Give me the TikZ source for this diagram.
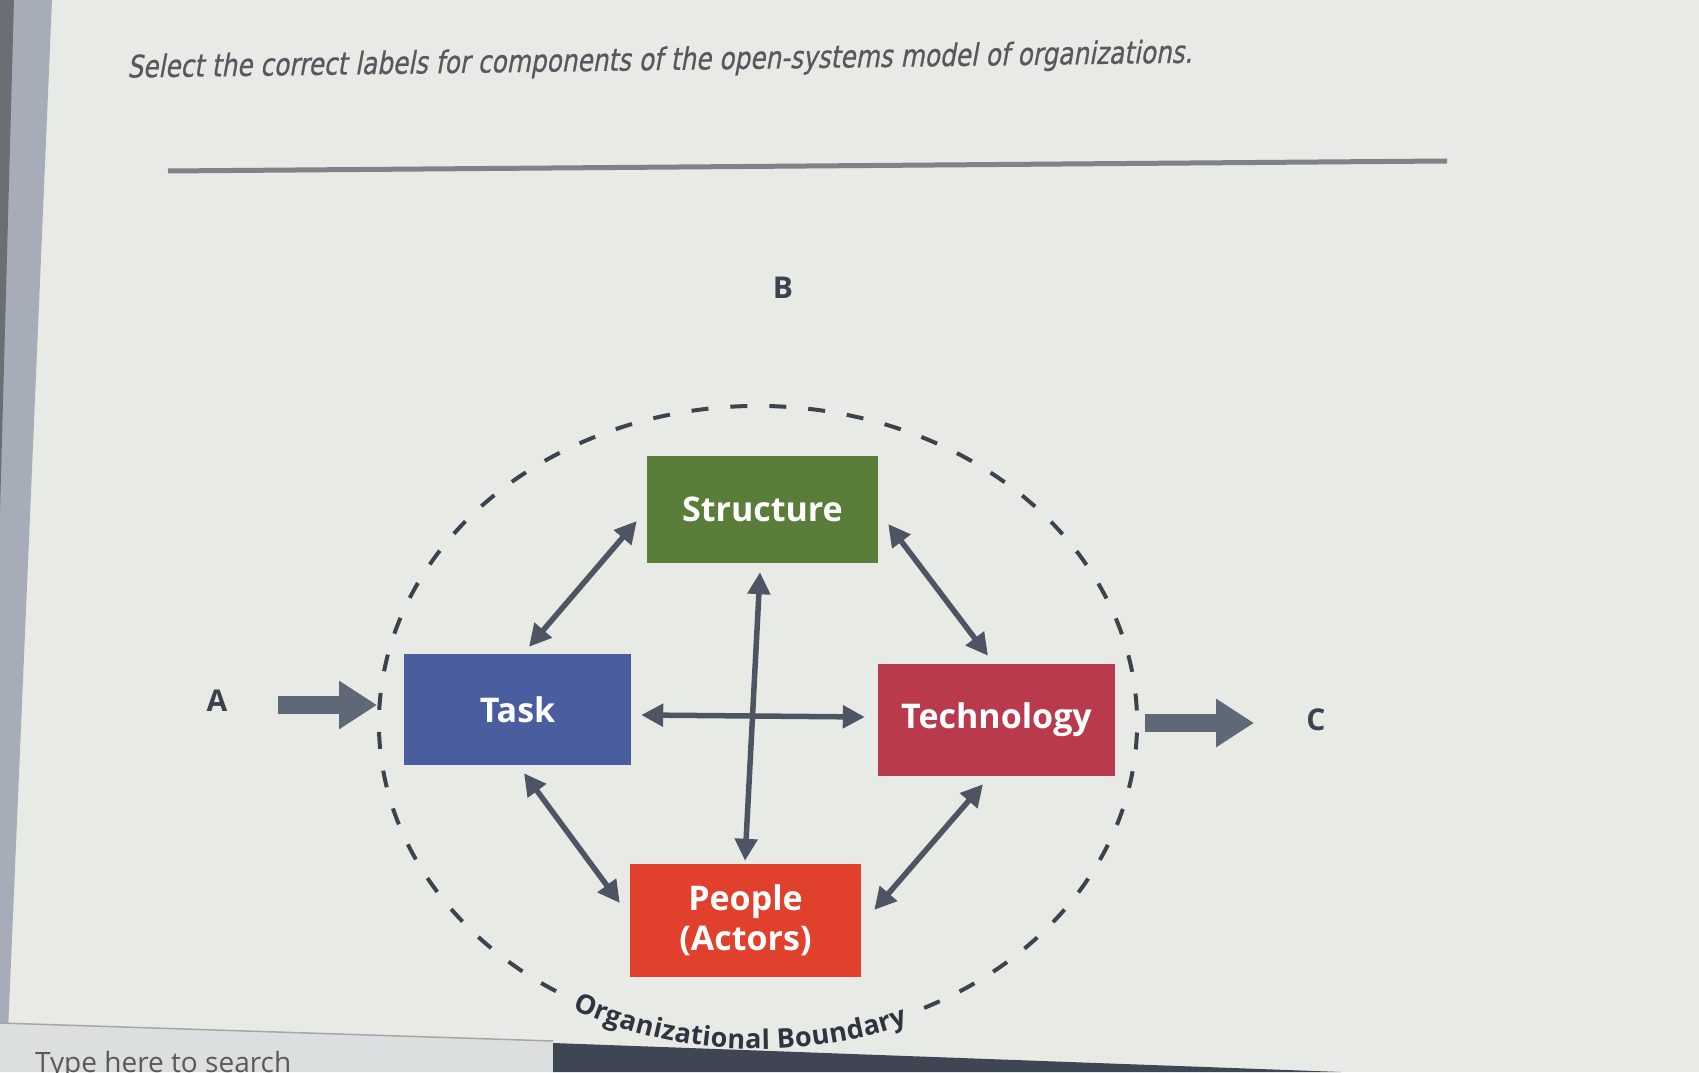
\documentclass[tikz,border=0pt]{standalone}
\usepackage{fontspec}
\setmainfont{Open Sans}
\newfontfamily\titlefont{DejaVu Sans}[FakeStretch=0.80,FakeSlant=0.2,FakeBold=0.6]
\usetikzlibrary{arrows.meta,calc,decorations.text}
\definecolor{bg}{HTML}{E8EAE6}
\definecolor{ink}{HTML}{3C434E}
\definecolor{arr}{HTML}{4D5562}
\definecolor{bigarr}{HTML}{5E6876}
\definecolor{titlec}{HTML}{55585E}
\definecolor{rulec}{HTML}{7F8288}
\definecolor{cstruct}{HTML}{5A7D3A}
\definecolor{ctask}{HTML}{4A5D9E}
\definecolor{ctech}{HTML}{B93A4C}
\definecolor{cpeople}{HTML}{E0402C}
\definecolor{bnd}{HTML}{2F3540}
\definecolor{edgec}{HTML}{A6ADB8}
\definecolor{edgedark}{HTML}{6B6E72}
\definecolor{barlight}{HTML}{DCDFE0}
\definecolor{bardark}{HTML}{3E4553}
\newcommand\bndfmt{\fontsize{27pt}{31pt}\selectfont\bfseries\color{bnd}}
\begin{document}
\begin{tikzpicture}[x=1pt,y=1pt,
  box/.style={draw=none,text=white,font=\fontsize{34pt}{40pt}\selectfont\bfseries,align=center,inner sep=0pt},
  letter/.style={text=ink,font=\fontsize{30pt}{34pt}\selectfont\bfseries,inner sep=0pt},
  link/.style={draw=arr,line width=5.5pt,{Triangle[length=22pt,width=22pt]}-{Triangle[length=22pt,width=22pt]}},
  bigarrow/.style={draw=bigarr,line width=18pt,-{Triangle[length=38pt,width=46pt]}},
  bnddash/.style={draw=ink,line width=4pt,dash pattern=on 17pt off 22pt}]
\useasboundingbox (0,0) rectangle (1699,1072);
\fill[bg] (0,0) rectangle (1699,1072);
% left window edge
\fill[edgec] (0,1072) -- (52,1072) -- (8,40) -- (0,40) -- cycle;
\fill[edgedark] (0,1072) -- (14,1072) -- (0,560) -- cycle;
% taskbar
\fill[barlight] (0,0) -- (0,49) -- (553,31) -- (553,0) -- cycle;
\draw[color=black!35,line width=1.5pt] (0,49) -- (553,31);
\fill[bardark] (553,0) -- (553,29) -- (1341,0) -- cycle;
\begin{scope}
\clip (0,0) rectangle (553,30);
\node[anchor=north west,text=black!65,font=\fontsize{28pt}{32pt}\selectfont,inner sep=0pt] (search) at (35,21) {Type here to search};
\end{scope}
% title and rule
\node[anchor=west,text=titlec,font=\titlefont\fontsize{31pt}{36pt}\selectfont,inner sep=0pt,rotate=0.8] (title) at (127,1003) {Select the correct labels for components of the open-systems model of organizations.};
\draw[rulec,line width=5pt] (168,901) -- (1447,911);
% boundary
\coordinate (ctr) at (758,349);
\draw[bnddash] ($(ctr)+(296:379pt and 317pt)$) arc[start angle=296,end angle=598,x radius=379pt,y radius=317pt];
\path[decorate,decoration={text along path,text={|\bndfmt|Organizational Boundary},text align=center,raise=-9pt}]
  ($(ctr)+(233:379pt and 317pt)$) arc[start angle=233,end angle=301,x radius=379pt,y radius=317pt];
% boxes
\node[box,fill=cstruct,minimum width=231pt,minimum height=107pt] (structure) at (762.5,562.5) {Structure};
\node[box,fill=ctask,minimum width=227pt,minimum height=111pt] (task) at (517.5,362.5) {Task};
\node[box,fill=ctech,minimum width=237pt,minimum height=112pt] (tech) at (996.5,352) {Technology};
\node[box,fill=cpeople,minimum width=231pt,minimum height=113pt] (people) at (745.5,151.5) {People\\(Actors)};
% labels
\node[letter] (B) at (783,784) {B};
\node[letter] (A) at (217,371) {A};
\node[letter] (C) at (1316,352) {C};
% links
\draw[link] ($(task.north)+(11.5,7)$) -- ($(structure.west)+(-10,-11.5)$);
\draw[link] ($(structure.east)+(10,-14.5)$) -- ($(tech.north)+(-8.5,8)$);
\draw[link] ($(structure.south)+(-2.5,-9)$) -- ($(people.north)+(-0.5,3)$);
\draw[link] ($(task.east)+(10,-5.5)$) -- ($(tech.west)+(-13,3)$);
\draw[link] ($(task.south)+(6.5,-8)$) -- ($(people.west)+(-10,17.5)$);
\draw[link] ($(tech.south)+(-13.5,-8)$) -- ($(people.east)+(13,10.5)$);
% input / output
\coordinate (ain) at (278,367);
\coordinate (aout) at (377,367);
\coordinate (cin) at (1145,349);
\coordinate (cout) at (1254,349);
\draw[bigarrow] (ain) -- (aout);
\draw[bigarrow] (cin) -- (cout);
\end{tikzpicture}
\end{document}
